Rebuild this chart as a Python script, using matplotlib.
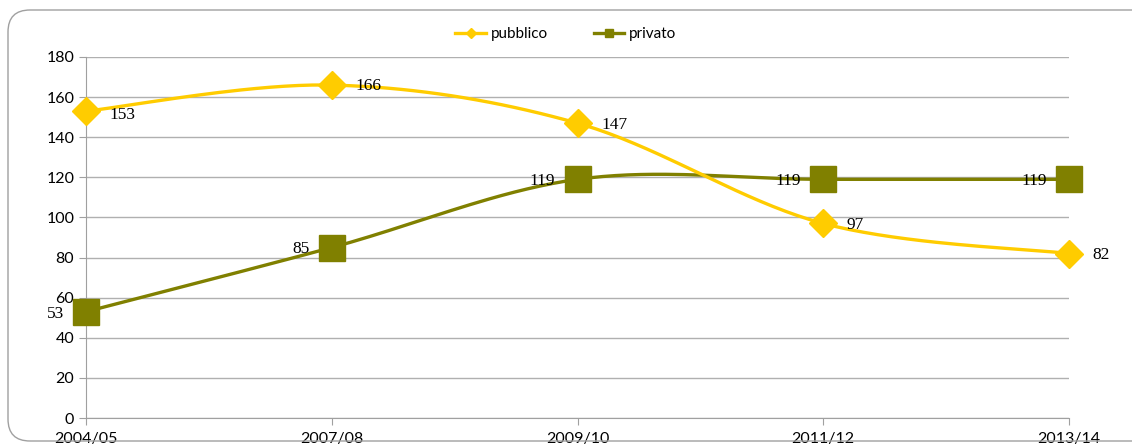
import numpy as np
import matplotlib.pyplot as plt
from matplotlib.patches import FancyBboxPatch
from matplotlib.transforms import IdentityTransform

anni = ["2004/05", "2007/08", "2009/10", "2011/12", "2013/14"]
pubblico = [153, 166, 147, 97, 82]
privato = [53, 85, 119, 119, 119]

GIALLO = "#FFCC00"
OLIVA = "#808000"


def smooth(xs, ys, n=40):
    # bezier smoothing like the spreadsheet "smoothed line"
    xs = np.asarray(xs, float)
    ys = np.asarray(ys, float)
    px, py = [], []
    m = len(xs)
    for i in range(m - 1):
        i0, i3 = max(i - 1, 0), min(i + 2, m - 1)
        c1x = xs[i] + (xs[i + 1] - xs[i0]) / 6
        c1y = ys[i] + (ys[i + 1] - ys[i0]) / 6
        c2x = xs[i + 1] - (xs[i3] - xs[i]) / 6
        c2y = ys[i + 1] - (ys[i3] - ys[i]) / 6
        t = np.linspace(0, 1, n)
        a, b, c, d = (1 - t) ** 3, 3 * (1 - t) ** 2 * t, 3 * (1 - t) * t ** 2, t ** 3
        px.extend(a * xs[i] + b * c1x + c * c2x + d * xs[i + 1])
        py.extend(a * ys[i] + b * c1y + c * c2y + d * ys[i + 1])
    return px, py


fig = plt.figure(figsize=(11.32, 4.44), dpi=100)
ax = fig.add_axes([86 / 1132, 1 - 418 / 444, (1069 - 86) / 1132, (418 - 57) / 444])

# outer rounded frame (runs off the right edge)
border = FancyBboxPatch((8, 3), 1160, 431,
                        boxstyle="round,pad=0,rounding_size=22",
                        transform=IdentityTransform(), facecolor="none",
                        edgecolor="#A0A0A0", linewidth=1.0)
fig.patches.append(border)

x = np.arange(len(anni))

sx, sy = smooth(x, privato)
ax.plot(sx, sy, color=OLIVA, lw=2.4, zorder=3, clip_on=False)
ax.plot(x, privato, ls="none", marker="s", ms=18.5, color=OLIVA, zorder=4, clip_on=False)
sx, sy = smooth(x, pubblico)
ax.plot(sx, sy, color=GIALLO, lw=2.4, zorder=3, clip_on=False)
ax.plot(x, pubblico, ls="none", marker="D", ms=14, color=GIALLO, zorder=4, clip_on=False)

# legend proxies
ax.plot([], [], color=GIALLO, lw=2.4, marker="D", ms=5, label="pubblico")
ax.plot([], [], color=OLIVA, lw=2.4, marker="s", ms=6, label="privato")
ax.legend(loc="lower center", bbox_to_anchor=(0.488, 1.005), ncol=2, frameon=False,
          handlelength=2.0, columnspacing=3.0, handletextpad=0.3,
          prop={"family": "Lato", "size": 11})

for i, v in enumerate(pubblico):
    dy = -3 if i == 0 else -1
    ax.annotate(str(v), (x[i], v), xytext=(17, dy), textcoords="offset points",
                ha="left", va="center", fontsize=12.5, family="Liberation Serif")
for i, v in enumerate(privato):
    ax.annotate(str(v), (x[i], v), xytext=(-16, -1 if i else -2), textcoords="offset points",
                ha="right", va="center", fontsize=12.5, family="Liberation Serif")

ax.set_xlim(0, 4)
ax.set_ylim(0, 180)
ax.set_yticks(range(0, 181, 20))
ax.set_xticks(x)
ax.set_xticklabels(anni)
ax.grid(axis="y", color="#B0B0B0", lw=1)
ax.set_axisbelow(True)
for s in ["top", "right"]:
    ax.spines[s].set_visible(False)
ax.spines["left"].set_color("#A0A0A0")
ax.spines["bottom"].set_color("#A0A0A0")
ax.tick_params(axis="both", colors="#A0A0A0", labelcolor="black", length=5, labelsize=11.5)
ax.tick_params(axis="x", pad=5)
for lab in ax.get_xticklabels() + ax.get_yticklabels():
    lab.set_family("Lato")

fig.savefig("out.png", dpi=100)
